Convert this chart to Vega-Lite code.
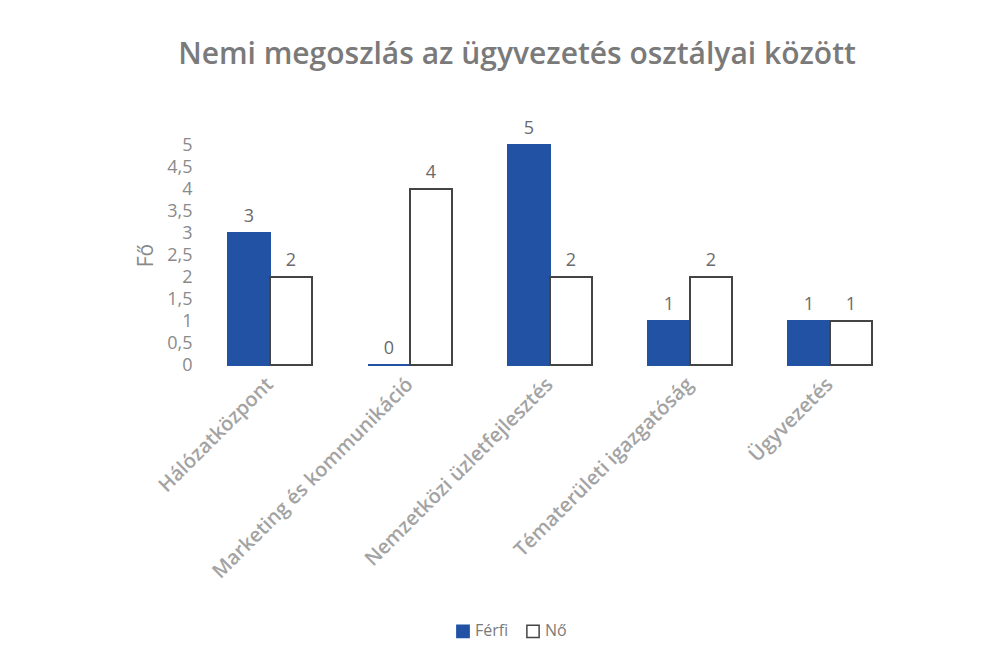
{
  "$schema": "https://vega.github.io/schema/vega-lite/v6.json",
  "autosize": "none",
  "width": 700,
  "height": 220,
  "padding": {"left": 200, "top": 145, "right": 94, "bottom": 297},
  "background": "white",
  "view": {"stroke": null},
  "title": {
    "text": "Nemi megoszlás az ügyvezetés osztályai között",
    "font": "Open Sans",
    "fontSize": 30,
    "fontWeight": 600,
    "color": "#7a7a7a",
    "anchor": "middle",
    "dx": -33,
    "offset": 50
  },
  "data": {
    "values": [
      {"osztaly": "Hálózatközpont", "nem": "Férfi", "fo": 3},
      {"osztaly": "Hálózatközpont", "nem": "Nő", "fo": 2},
      {"osztaly": "Marketing és kommunikáció", "nem": "Férfi", "fo": 0},
      {"osztaly": "Marketing és kommunikáció", "nem": "Nő", "fo": 4},
      {"osztaly": "Nemzetközi üzletfejlesztés", "nem": "Férfi", "fo": 5},
      {"osztaly": "Nemzetközi üzletfejlesztés", "nem": "Nő", "fo": 2},
      {"osztaly": "Tématerületi igazgatóság", "nem": "Férfi", "fo": 1},
      {"osztaly": "Tématerületi igazgatóság", "nem": "Nő", "fo": 2},
      {"osztaly": "Ügyvezetés", "nem": "Férfi", "fo": 1},
      {"osztaly": "Ügyvezetés", "nem": "Nő", "fo": 1}
    ]
  },
  "encoding": {
    "x": {
      "field": "osztaly",
      "type": "nominal",
      "sort": null,
      "scale": {"paddingInner": 0.4, "paddingOuter": 0.2},
      "axis": {
        "title": null,
        "labelAngle": -45,
        "labelAlign": "right",
        "labelBaseline": "middle",
        "labelFont": "Open Sans",
        "labelFontSize": 20,
        "labelFontWeight": 600,
        "labelColor": "#a3a3a3",
        "labelPadding": 16,
        "labelLimit": 0,
        "domain": false,
        "ticks": false
      }
    },
    "xOffset": {"field": "nem", "type": "nominal", "sort": ["Férfi", "Nő"]},
    "y": {
      "field": "fo",
      "type": "quantitative",
      "scale": {"domain": [0, 5]},
      "axis": {
        "title": "Fő",
        "titleFont": "Open Sans",
        "titleFontSize": 21,
        "titleFontWeight": "normal",
        "titleColor": "#8a8a8a",
        "titlePadding": 10,
        "values": [0, 0.5, 1, 1.5, 2, 2.5, 3, 3.5, 4, 4.5, 5],
        "labelExpr": "replace(format(datum.value, '~g'), '.', ',')",
        "labelFont": "Open Sans",
        "labelFontSize": 18,
        "labelColor": "#8a8a8a",
        "labelPadding": 8,
        "domain": false,
        "ticks": false,
        "grid": false
      }
    }
  },
  "layer": [
    {
      "mark": {"type": "bar", "strokeWidth": 2},
      "encoding": {
        "color": {
          "field": "nem",
          "type": "nominal",
          "sort": ["Férfi", "Nő"],
          "scale": {"domain": ["Férfi", "Nő"], "range": ["#2152a3", "#ffffff"]},
          "legend": {
            "title": null,
            "orient": "none",
            "legendX": 255,
            "legendY": 478,
            "direction": "horizontal",
            "symbolType": "square",
            "symbolSize": 150,
            "symbolStrokeColor": "#404040",
            "labelFont": "Open Sans",
            "labelFontSize": 16,
            "labelColor": "#7a7a7a",
            "columnPadding": 14
          }
        },
        "stroke": {
          "field": "nem",
          "type": "nominal",
          "scale": {"domain": ["Férfi", "Nő"], "range": ["#2152a3", "#444444"]},
          "legend": null
        }
      }
    },
    {
      "mark": {"type": "text", "dy": -16, "font": "Open Sans", "fontSize": 18, "color": "#6a6a6a"},
      "encoding": {"text": {"field": "fo", "type": "quantitative"}}
    }
  ]
}
